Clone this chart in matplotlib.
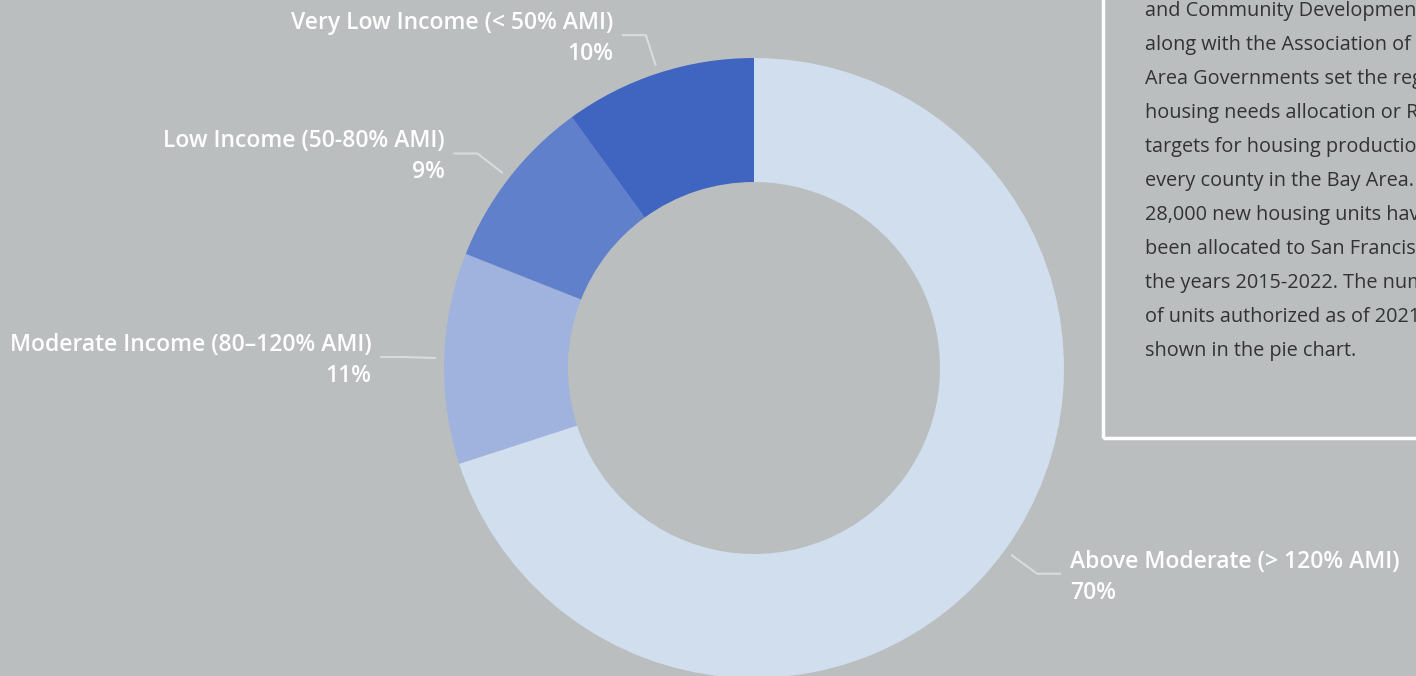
import numpy as np
import matplotlib.pyplot as plt
from matplotlib.patches import Rectangle

# Datos del gráfico (orden en sentido horario desde las 12)
categorias = ['Above Moderate (> 120% AMI)', 'Moderate Income (80\u2013120% AMI)',
              'Low Income (50-80% AMI)', 'Very Low Income (< 50% AMI)']
porcentajes = [70, 11, 9, 10]
colores = ['#D0DEEE', '#A0B3DF', '#6180CB', '#3F65C1']

texto_caja = [
    'and Community Development',
    'along with the Association of Bay',
    'Area Governments set the regional',
    'housing needs allocation or RHNA',
    'targets for housing production for',
    'every county in the Bay Area. About',
    '28,000 new housing units have',
    'been allocated to San Francisco for',
    'the years 2015-2022. The number',
    'of units authorized as of 2021 is',
    'shown in the pie chart.',
]

fondo = '#BBBEBF'
W, H = 1416, 676
cx, cy = 754, H - 368
r_ext, r_int = 310, 186

fig = plt.figure(figsize=(W / 100, H / 100), dpi=100, facecolor=fondo)
ax = fig.add_axes([0, 0, 1, 1])
ax.set_facecolor(fondo)

ax.pie(porcentajes, colors=colores, startangle=90, counterclock=False,
       radius=r_ext, center=(cx, cy),
       wedgeprops=dict(width=r_ext - r_int, edgecolor='none', linewidth=0))

# Etiquetas con líneas guía
total = sum(porcentajes)
ang = 90.0
for cat, val in zip(categorias, porcentajes):
    span = 360.0 * val / total
    mid = np.deg2rad(ang - span / 2)
    ang -= span
    x0, y0 = cx + 318 * np.cos(mid), cy + 318 * np.sin(mid)
    x1, y1 = cx + 350 * np.cos(mid), cy + 350 * np.sin(mid)
    lado = 1 if np.cos(mid) > 0 else -1
    x2 = x1 + lado * 24
    ax.plot([x0, x1, x2], [y0, y1, y1], color='#D9DBDC', lw=1.5,
            solid_capstyle='butt')
    ha = 'left' if lado > 0 else 'right'
    xt = x2 + lado * 9
    ax.text(xt, y1 + 12, cat, ha=ha, va='center', color='white',
            fontsize=16.5, fontweight='semibold', family='Open Sans')
    ax.text(xt, y1 - 19, f'{val}%', ha=ha, va='center', color='white',
            fontsize=16.5, fontweight='semibold', family='Open Sans')

# Caja de texto (recortada por el borde derecho, como en el original)
ax.add_patch(Rectangle((1103, H - 438), 600, 600, fill=False,
                       edgecolor='white', lw=2.5))
for i, linea in enumerate(texto_caja):
    ax.text(1145, H - (11 + 34 * i), linea, ha='left', va='center',
            color='#333333', fontsize=14.3, family='Open Sans')

ax.set_xlim(0, W)
ax.set_ylim(0, H)
ax.set_aspect('auto')
ax.axis('off')

fig.savefig('out.png', dpi=100, facecolor=fondo)
